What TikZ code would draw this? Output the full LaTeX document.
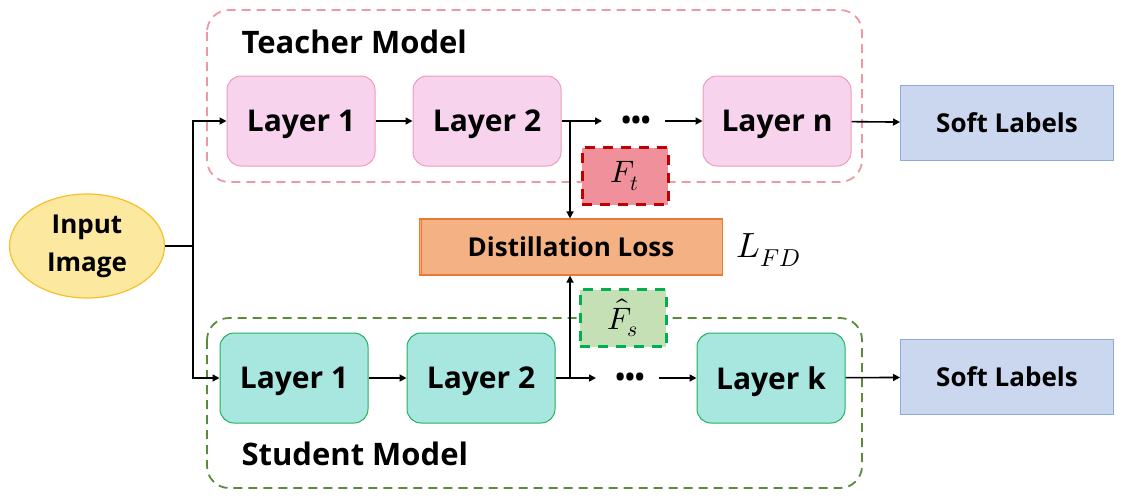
\documentclass[tikz,border=0pt]{standalone}
\usepackage{fontspec}
\usepackage{unicode-math}
\setmainfont{Open Sans}
\setmathfont{Latin Modern Math}
\usetikzlibrary{arrows.meta,shapes.geometric}
\definecolor{tpink}{HTML}{F8D3EE}
\definecolor{tpinkb}{HTML}{F19CB5}
\definecolor{tdash}{HTML}{EE98A4}
\definecolor{sgreen}{HTML}{A7E7DF}
\definecolor{sgreenb}{HTML}{22B35A}
\definecolor{sdash}{HTML}{5A8A3A}
\definecolor{softf}{HTML}{CAD7EF}
\definecolor{softb}{HTML}{8EA9DB}
\definecolor{ftf}{HTML}{F0909A}
\definecolor{ftb}{HTML}{C00000}
\definecolor{fsf}{HTML}{C6E0B5}
\definecolor{fsb}{HTML}{00B050}
\definecolor{dlf}{HTML}{F4B183}
\definecolor{dlb}{HTML}{E97A32}
\definecolor{inf}{HTML}{FDE8A0}
\definecolor{inb}{HTML}{F6C02A}
\tikzset{
  layerbox/.style={draw, line width=1pt, rounded corners=14pt, minimum width=148pt, minimum height=90pt, text depth=0pt, font=\fontsize{30}{32}\selectfont\bfseries},
  tlayer/.style={layerbox, fill=tpink, draw=tpinkb},
  slayer/.style={layerbox, fill=sgreen, draw=sgreenb},
  softbox/.style={draw=softb, fill=softf, line width=1pt, minimum width=213pt, minimum height=75pt, font=\fontsize{26}{28}\selectfont\bfseries},
  featbox/.style={line width=3pt, dash pattern=on 10pt off 8pt, minimum width=86pt, minimum height=57pt, inner sep=0pt, font=\fontsize{31}{33}\selectfont},
  dotsnode/.style={font=\fontsize{26}{28}\selectfont\bfseries, inner sep=0pt},
  arr/.style={-{Triangle[length=7pt,width=7pt]}, line width=1.6pt},
  ln/.style={line width=1.6pt},
  modelbox/.style={line width=1.8pt, dash pattern=on 9pt off 6pt, rounded corners=22pt},
  modeltitle/.style={anchor=west, font=\fontsize{31}{33}\selectfont\bfseries},
}
\begin{document}
\begin{tikzpicture}[x=1pt,y=-1pt]
\useasboundingbox (0,0) rectangle (1137,499);
% model frames
\draw[modelbox, draw=tdash] (207,10) rectangle (862,182);
\draw[modelbox, draw=sdash] (207,318) rectangle (862,488);
\node[modeltitle] (tt) at (238,42) {Teacher Model};
\node[modeltitle] (st) at (238,454) {Student Model};
% teacher
\node[tlayer] (t1) at (301,121) {Layer 1};
\node[tlayer] (t2) at (487,121) {Layer 2};
\node[tlayer] (tn) at (777,121) {Layer n};
\node[dotsnode] (td) at (636,123) {•••};
\node[softbox] (ts) at (1007,123) {Soft Labels};
% student
\node[slayer] (s1) at (294,378) {Layer 1};
\node[slayer] (s2) at (481,378) {Layer 2};
\node[slayer] (sk) at (771,378) {Layer k};
\node[dotsnode] (sd) at (630,380) {•••};
\node[softbox] (ss) at (1007,377) {Soft Labels};
% input
\node[ellipse, draw=inb, fill=inf, line width=1.2pt, minimum width=155pt, minimum height=104pt, align=center, font=\fontsize{26}{38}\selectfont\bfseries] (in) at (87,246) {Input\\Image};
% distillation
\node[draw=dlb, fill=dlf, line width=1.2pt, minimum width=303pt, minimum height=56pt, font=\fontsize{26}{28}\selectfont\bfseries] (dl) at (571,247) {Distillation Loss};
\draw[dlb, line width=1pt] ([xshift=3pt]dl.north west) -- ([xshift=3pt]dl.south west);
\node[font=\fontsize{35}{37}\selectfont, anchor=west] (lfd) at (733,250) {$L_{FD}$};
% feature boxes
\node[featbox, fill=ftf, draw=ftb] (ft) at (625,176) {$F_t$};
\node[featbox, fill=fsf, draw=fsb] (fs) at (623,318) {$\hat{F}_s$};
% input connectors
\coordinate (j) at (193,246);
\draw[ln] (in.east) -- (j);
\draw[arr] (j) |- (t1.west);
\draw[arr] (j) |- (s1.west);
% teacher chain
\draw[arr] (t1) -- (t2);
\coordinate (tj) at (570,121);
\coordinate (ta) at (602,121);
\draw[arr] (t2.east) -- (ta);
\coordinate (tb) at (665,121);
\draw[arr] (tb) -- (tn.west);
\draw[arr] (tn) -- (ts);
\draw[arr] (tj) -- (tj |- dl.north);
% student chain
\draw[arr] (s1) -- (s2);
\coordinate (sj) at (570,378);
\coordinate (sa) at (596,378);
\draw[arr] (s2.east) -- (sa);
\coordinate (sb) at (659,378);
\draw[arr] (sb) -- (sk.west);
\draw[arr] (sk) -- (ss);
\draw[arr] (sj) -- (sj |- dl.south);
\end{tikzpicture}
\end{document}
